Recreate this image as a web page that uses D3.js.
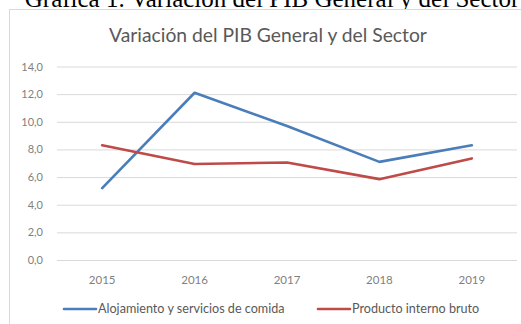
<!DOCTYPE html>
<html>
<head>
<meta charset="utf-8">
<script src="https://cdn.jsdelivr.net/npm/d3@7"></script>
<style>
  html, body { margin: 0; padding: 0; background: #fff; }
  svg { display: block; }
</style>
</head>
<body>
<svg id="chart" width="521" height="324"></svg>
<script>
// Años y series (variación porcentual)
const years = ["2015", "2016", "2017", "2018", "2019"];
const alojamiento = [5.2, 12.1, 9.7, 7.1, 8.3];
const pib = [8.3, 6.95, 7.05, 5.85, 7.35];
const yTicks = [0, 2, 4, 6, 8, 10, 12, 14];
const seriesNames = ["Alojamiento y servicios de comida", "Producto interno bruto"];
const seriesColors = ["#4a7ebb", "#be4b48"];

const svg = d3.select("#chart");
const W = 521, H = 324;
const sans = "Lato, Open Sans, DejaVu Sans, sans-serif";

// Pie de gráfica, recortado por el borde superior
svg.append("text")
  .attr("x", 272).attr("y", 7)
  .attr("text-anchor", "middle")
  .attr("font-family", "Liberation Serif, Times New Roman, serif")
  .attr("font-size", 25)
  .attr("fill", "#000")
  .text("Gráfica 1. Variación del PIB General y del Sector");

// Marco del área del gráfico
svg.append("rect")
  .attr("x", 9.5).attr("y", 9.5)
  .attr("width", W + 10).attr("height", H + 10)
  .attr("fill", "#fff")
  .attr("stroke", "#d9d9d9");

svg.append("text")
  .attr("x", 268).attr("y", 42)
  .attr("text-anchor", "middle")
  .attr("font-family", sans)
  .attr("font-size", 19.3)
  .attr("fill", "#595959")
  .text("Variación del PIB General y del Sector");

const x = d3.scaleBand().domain(years).range([56, 518]);
const y = d3.scaleLinear().domain([0, 14]).range([260, 66.5]);

// Líneas de cuadrícula y etiquetas del eje Y
const yAxis = d3.axisLeft(y).tickValues(yTicks)
  .tickSize(-(517 - 57))
  .tickFormat(d => d3.format(".1f")(d).replace(".", ","));
const gy = svg.append("g").attr("transform", "translate(57,0)").call(yAxis);
gy.select(".domain").remove();
gy.selectAll(".tick line").attr("stroke", "#d9d9d9").attr("stroke-width", 1);
gy.selectAll(".tick text")
  .attr("x", -14)
  .attr("font-family", sans)
  .attr("font-size", 11)
  .attr("fill", "#7f7f7f");

// Etiquetas del eje X
const xAxis = d3.axisBottom(x).tickSize(0);
const gx = svg.append("g").attr("transform", "translate(0,260)").call(xAxis);
gx.select(".domain").remove();
gx.selectAll(".tick text")
  .attr("y", 24).attr("dy", 0)
  .attr("font-family", sans)
  .attr("font-size", 11.5)
  .attr("fill", "#7f7f7f");

// Series
const line = d3.line()
  .x((d, i) => x(years[i]) + x.bandwidth() / 2)
  .y(d => y(d));

[alojamiento, pib].forEach((vals, k) => {
  svg.append("path")
    .datum(vals)
    .attr("fill", "none")
    .attr("stroke", seriesColors[k])
    .attr("stroke-width", 2.6)
    .attr("stroke-linejoin", "round")
    .attr("stroke-linecap", "round")
    .attr("d", line);
});

// Leyenda
const legendX = [64, 318];
seriesNames.forEach((name, k) => {
  const g = svg.append("g").attr("transform", `translate(${legendX[k]},309)`);
  g.append("line")
    .attr("x1", 0).attr("x2", 32).attr("y1", 0).attr("y2", 0)
    .attr("stroke", seriesColors[k]).attr("stroke-width", 2.6)
    .attr("stroke-linecap", "round");
  g.append("text")
    .attr("x", 34).attr("y", 4)
    .attr("font-family", sans)
    .attr("font-size", 12.6)
    .attr("fill", "#595959")
    .text(name);
});
</script>
</body>
</html>
